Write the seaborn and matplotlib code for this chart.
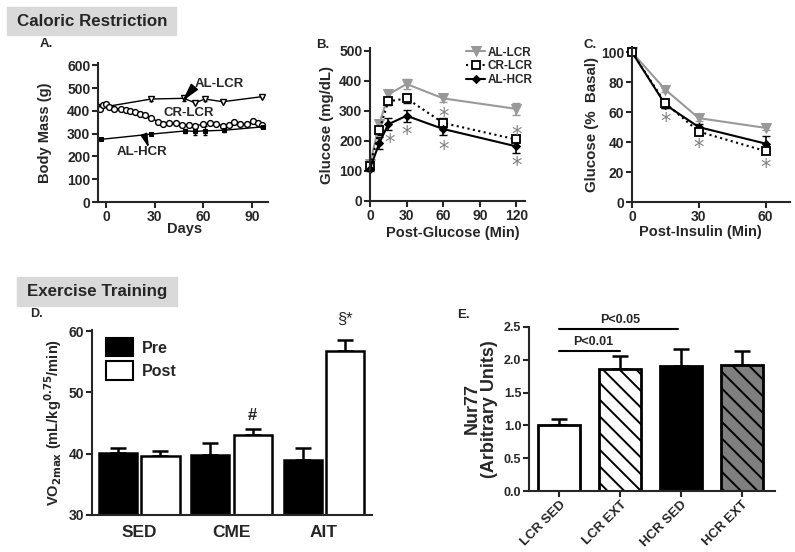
import matplotlib
matplotlib.use("Agg")
import matplotlib.pyplot as plt
import seaborn as sns
import pandas as pd
import numpy as np
from matplotlib.patches import Rectangle, Patch

# === DANE ===
# A. masa ciała
al_lcr_days = [-3, 28, 48, 55, 61, 72, 96]
al_lcr_mass = [415, 452, 455, 435, 452, 440, 462]
al_lcr_mass_err = [0, 10, 10, 0, 10, 0, 0]
cr_lcr_days = [-4, -2, 0, 2, 5, 9, 12, 15, 18, 21, 24, 28, 32, 35, 39, 43, 47, 51,
               55, 60, 64, 68, 72, 76, 79, 83, 87, 91, 94, 96]
cr_lcr_mass = [410, 425, 432, 418, 410, 406, 403, 400, 394, 388, 381, 369, 352, 342,
               347, 345, 337, 337, 334, 342, 345, 342, 334, 337, 352, 342, 342, 356, 345, 340]
al_hcr_days = [-3, 28, 49, 55, 61, 73, 97]
al_hcr_mass = [275, 298, 312, 310, 312, 315, 330]
al_hcr_mass_err = [0, 5, 8, 15, 20, 8, 5]

# B. test tolerancji glukozy
gtt_time = [0, 7.5, 15, 30, 60, 120]
al_lcr_gtt = [125, 255, 355, 390, 342, 307]
al_lcr_gtt_err = [10, 15, 15, 18, 12, 20]
cr_lcr_gtt = [117, 235, 332, 342, 260, 205]
cr_lcr_gtt_err = [8, 15, 12, 15, 15, 10]
al_hcr_gtt = [108, 192, 256, 284, 240, 182]
al_hcr_gtt_err = [8, 20, 20, 20, 20, 22]
gtt_star_x = [16, 30, 60, 60, 120, 120]
gtt_star_y = [217, 242, 303, 194, 242, 140]

# C. test tolerancji insuliny
itt_time = [0, 15, 30, 60]
al_lcr_itt = [100, 75, 56, 49.5]
al_lcr_itt_err = [0, 1.5, 2, 1.5]
cr_lcr_itt = [100, 66, 47, 34]
cr_lcr_itt_err = [0, 3, 2, 2]
al_hcr_itt = [100, 65, 50, 39]
al_hcr_itt_err = [0, 2, 2, 5]
itt_star_x = [15, 30, 60]
itt_star_y = [58, 40.7, 27.5]

# D. VO2max
groups = ["SED", "CME", "AIT"]
vo2_pre = [40.1, 39.85, 38.9]
vo2_pre_err = [0.9, 1.95, 2.0]
vo2_post = [39.6, 43.1, 56.7]
vo2_post_err = [0.9, 1.0, 1.9]

# E. Nur77
nur_cats = ["LCR SED", "LCR EXT", "HCR SED", "HCR EXT"]
nur_vals = [1.01, 1.86, 1.90, 1.92]
nur_err = [0.095, 0.2, 0.26, 0.22]
nur_colors = ["white", "white", "black", "#7f7f7f"]

GRAY = "#999999"
STAR = "#808080"

# === STYL ===
sns.set_style("ticks")
plt.rcParams["font.family"] = ["Liberation Sans", "DejaVu Sans"]
plt.rcParams["font.weight"] = "bold"
plt.rcParams["axes.labelweight"] = "bold"
plt.rcParams["hatch.linewidth"] = 1.4

fig = plt.figure(figsize=(7.95, 5.52), dpi=100)


def px_axes(l, t, r, b):
    return fig.add_axes([l / 795, 1 - b / 552, (r - l) / 795, (b - t) / 552])


def style(ax, size=10):
    sns.despine(ax=ax)
    for s in ["left", "bottom"]:
        ax.spines[s].set_linewidth(1.5)
    ax.tick_params(width=1.5, length=4, labelsize=size, pad=1.5)
    for lab in ax.get_xticklabels() + ax.get_yticklabels():
        lab.set_fontweight("bold")


def header(text, l, t, r, b):
    fig.patches.append(Rectangle((l / 795, 1 - b / 552), (r - l) / 795, (b - t) / 552,
                                 transform=fig.transFigure, color="#d9d9d9", zorder=0))
    fig.text((l + 10) / 795, 1 - (t + b) / 2 / 552, text, fontsize=12.2,
             fontweight="bold", va="center", ha="left")


def stars(ax, xs, ys, size=15):
    for x, y in zip(xs, ys):
        ax.annotate("*", (x, y), xytext=(0, -5), textcoords="offset points",
                    color=STAR, fontsize=size, ha="center", va="center",
                    fontweight="normal", family="DejaVu Sans", annotation_clip=False)


def arrow_head(angle_deg):
    # wydłużony trójkąt (grot) skierowany pod danym kątem
    a = np.deg2rad(angle_deg)
    d = np.array([np.cos(a), np.sin(a)])
    n = np.array([-d[1], d[0]])
    tip = d
    b1 = -0.6 * d + 0.4 * n
    b2 = -0.6 * d - 0.4 * n
    return [tuple(tip), tuple(b1), tuple(b2), tuple(tip)]


header("Caloric Restriction", 7, 7, 176, 35)
header("Exercise Training", 17, 277, 177, 306)

# === A ===
axA = px_axes(98, 63, 268, 202)
axA.errorbar(al_lcr_days, al_lcr_mass, yerr=al_lcr_mass_err, fmt="none", ecolor="k",
             elinewidth=1, capsize=1.5)
axA.errorbar(al_hcr_days, al_hcr_mass, yerr=al_hcr_mass_err, fmt="none", ecolor="k",
             elinewidth=1, capsize=1.5)
sns.lineplot(x=al_lcr_days, y=al_lcr_mass, ax=axA, color="k", lw=1, marker="v",
             markersize=4.8, markerfacecolor="white", markeredgecolor="k", markeredgewidth=1)
sns.lineplot(x=cr_lcr_days, y=cr_lcr_mass, ax=axA, color="k", lw=1, marker="o",
             markersize=4.2, markerfacecolor="white", markeredgecolor="k", markeredgewidth=1)
sns.lineplot(x=al_hcr_days, y=al_hcr_mass, ax=axA, color="k", lw=1, marker="s",
             markersize=2.5, markerfacecolor="k", markeredgecolor="k")
axA.set_xlim(-5, 100)
axA.set_ylim(0, 610)
axA.set_xticks([0, 30, 60, 90])
axA.set_yticks(range(0, 601, 100))
axA.set_xlabel("Days", fontsize=10.5)
axA.set_ylabel("Body Mass (g)", fontsize=10.5)
axA.xaxis.set_label_coords(0.51, -0.145)
axA.yaxis.set_label_coords(-0.27, 0.5)
axA.text(70, 520, "AL-LCR", fontsize=9.5, fontweight="bold", ha="center", va="center")
axA.text(51, 390, "CR-LCR", fontsize=9.5, fontweight="bold", ha="center", va="center")
axA.text(22, 219, "AL-HCR", fontsize=9.5, fontweight="bold", ha="center", va="center")
# grot strzałek przy etykietach
axA.plot([52], [485], marker=arrow_head(230), markersize=11, color="k", ls="none")
axA.plot([24], [280], marker=arrow_head(290), markersize=10, color="k", ls="none")
style(axA)
fig.text(40 / 795, 1 - 44 / 552, "A.", fontsize=9.5, fontweight="bold", va="center")

# === B ===
axB = px_axes(370, 48, 525, 201)
axB.errorbar(gtt_time, al_lcr_gtt, yerr=al_lcr_gtt_err, fmt="none", ecolor=GRAY,
             elinewidth=1.2, capsize=3, clip_on=False)
axB.errorbar(gtt_time, al_hcr_gtt, yerr=al_hcr_gtt_err, fmt="none", ecolor="k",
             elinewidth=1.2, capsize=3, clip_on=False)
axB.errorbar(gtt_time, cr_lcr_gtt, yerr=cr_lcr_gtt_err, fmt="none", ecolor="k",
             elinewidth=1.2, capsize=3, clip_on=False)
sns.lineplot(x=gtt_time, y=al_lcr_gtt, ax=axB, color=GRAY, lw=1.5, marker="v",
             markersize=7, markeredgecolor=GRAY, label="AL-LCR", clip_on=False)
sns.lineplot(x=gtt_time, y=cr_lcr_gtt, ax=axB, color="k", lw=1.5, ls=":", marker="s",
             markersize=6, markerfacecolor="white", markeredgecolor="k",
             markeredgewidth=1.3, label="CR-LCR", clip_on=False)
sns.lineplot(x=gtt_time, y=al_hcr_gtt, ax=axB, color="k", lw=1.5, marker="D",
             markersize=4, markeredgecolor="k", label="AL-HCR", clip_on=False)
stars(axB, gtt_star_x, gtt_star_y)
axB.set_xlim(0, 127)
axB.set_ylim(0, 510)
axB.set_xticks([0, 30, 60, 90, 120])
axB.set_yticks(range(0, 501, 100))
axB.set_xlabel("Post-Glucose (Min)", fontsize=10.5)
axB.set_ylabel("Glucose (mg/dL)", fontsize=10.8)
axB.xaxis.set_label_coords(0.535, -0.163)
axB.yaxis.set_label_coords(-0.232, 0.5)
leg = axB.legend(loc="upper right", bbox_to_anchor=(1.08, 1.04), frameon=False,
                 fontsize=8.5, handlelength=1.6, labelspacing=0.15, handletextpad=0.2,
                 borderaxespad=0)
for t in leg.get_texts():
    t.set_fontweight("bold")
style(axB)
fig.text(316 / 795, 1 - 45 / 552, "B.", fontsize=9.5, fontweight="bold", va="center")

# === C ===
axC = px_axes(632, 47, 790, 202)
axC.errorbar(itt_time, al_lcr_itt, yerr=al_lcr_itt_err, fmt="none", ecolor=GRAY,
             elinewidth=1.2, capsize=3, clip_on=False)
axC.errorbar(itt_time, al_hcr_itt, yerr=al_hcr_itt_err, fmt="none", ecolor="k",
             elinewidth=1.2, capsize=3, clip_on=False)
axC.errorbar(itt_time, cr_lcr_itt, yerr=cr_lcr_itt_err, fmt="none", ecolor="k",
             elinewidth=1.2, capsize=3, clip_on=False)
sns.lineplot(x=itt_time, y=al_lcr_itt, ax=axC, color=GRAY, lw=1.5, marker="v",
             markersize=7, markeredgecolor=GRAY, clip_on=False)
sns.lineplot(x=itt_time, y=al_hcr_itt, ax=axC, color="k", lw=1.5, marker="D",
             markersize=4, markeredgecolor="k", clip_on=False)
sns.lineplot(x=itt_time, y=cr_lcr_itt, ax=axC, color="k", lw=1.5, ls=":", marker="s",
             markersize=6, markerfacecolor="white", markeredgecolor="k",
             markeredgewidth=1.3, clip_on=False)
stars(axC, itt_star_x, itt_star_y)
axC.set_xlim(0, 71)
axC.set_ylim(0, 103.5)
axC.set_xticks([0, 30, 60])
axC.set_yticks(range(0, 101, 20))
axC.set_xlabel("Post-Insulin (Min)", fontsize=10.5)
axC.set_ylabel("Glucose (%  Basal)", fontsize=10.8)
axC.xaxis.set_label_coords(0.43, -0.148)
axC.yaxis.set_label_coords(-0.209, 0.5)
style(axC)
fig.text(583 / 795, 1 - 45 / 552, "C.", fontsize=9.5, fontweight="bold", va="center")

# === D ===
axD = px_axes(92, 330, 372, 515)
df_d = pd.DataFrame({
    "group": groups * 2,
    "phase": ["Pre"] * 3 + ["Post"] * 3,
    "value": vo2_pre + vo2_post,
})
sns.barplot(data=df_d, x="group", y="value", hue="phase", order=groups,
            hue_order=["Pre", "Post"], palette={"Pre": "black", "Post": "white"},
            edgecolor="black", linewidth=1.8, width=0.92, gap=0.1, errorbar=None,
            legend=False, ax=axD)
for cont, errs in zip(axD.containers, [vo2_pre_err, vo2_post_err]):
    xs = [b.get_x() + b.get_width() / 2 for b in cont]
    ys = [b.get_height() for b in cont]
    axD.errorbar(xs, ys, yerr=[[0] * 3, errs], fmt="none", ecolor="k", elinewidth=1.8,
                 capsize=5.5, capthick=1.8, zorder=0)
post_x = [b.get_x() + b.get_width() / 2 for b in axD.containers[1]]
axD.text(post_x[1], 46.2, "#", fontsize=12, fontweight="bold", ha="center", va="center")
axD.text(post_x[2], 62.0, "§*", fontsize=12, fontweight="normal", ha="center",
         va="center", clip_on=False)
axD.set_ylim(30, 60.2)
axD.set_xlim(-0.51, 2.52)
axD.set_yticks([30, 40, 50, 60])
axD.set_xlabel("")
axD.set_ylabel(r"VO$_{\mathbf{2max}}$ (mL/kg$^{\mathbf{0.75}}$/min)", fontsize=10.5)
axD.yaxis.set_label_coords(-0.1, 0.5)
style(axD, size=10)
axD.tick_params(axis="x", length=0, labelsize=12.5, pad=7)
for lab in axD.get_xticklabels():
    lab.set_fontweight("bold")
handles = [Patch(facecolor="black", edgecolor="black", lw=1.5, label="Pre"),
           Patch(facecolor="white", edgecolor="black", lw=1.5, label="Post")]
legD = axD.legend(handles=handles, loc="upper left", bbox_to_anchor=(0.02, 1.0),
                  frameon=False, fontsize=11.5, handlelength=1.7, handleheight=1.4,
                  labelspacing=0.3, handletextpad=0.6, borderaxespad=0.1)
for t in legD.get_texts():
    t.set_fontweight("bold")
fig.text(30 / 795, 1 - 314 / 552, "D.", fontsize=9, fontweight="bold", va="center")

# === E ===
axE = px_axes(529, 327, 775, 491)
sns.barplot(x=nur_cats, y=nur_vals, hue=nur_cats, palette=nur_colors, legend=False,
            edgecolor="black", linewidth=2, width=0.69, ax=axE)
for i, bar in enumerate(axE.patches):
    if i in (1, 3):
        bar.set_hatch("\\\\")
axE.errorbar(range(4), nur_vals, yerr=[[0] * 4, nur_err], fmt="none", ecolor="k",
             elinewidth=1.8, capsize=6, capthick=1.8, zorder=0)
axE.plot([0, 1], [2.13, 2.13], color="k", lw=1.5, clip_on=False)
axE.plot([0, 1.95], [2.465, 2.465], color="k", lw=1.5, clip_on=False)
axE.text(0.55, 2.27, "P<0.01", fontsize=9, fontweight="bold", ha="center", va="center")
axE.text(1.0, 2.6, "P<0.05", fontsize=9, fontweight="bold", ha="center", va="center",
         clip_on=False)
axE.set_xlim(-0.5, 3.55)
axE.set_ylim(0, 2.5)
axE.set_yticks([0, 0.5, 1.0, 1.5, 2.0, 2.5])
axE.set_yticklabels(["0.0", "0.5", "1.0", "1.5", "2.0", "2.5"])
axE.set_ylabel("Nur77\n(Arbitrary Units)", fontsize=13, linespacing=1.0)
axE.yaxis.set_label_coords(-0.126, 0.5)
style(axE, size=9)
axE.set_xticks(range(4))
axE.set_xticklabels(nur_cats, rotation=45, ha="right", rotation_mode="anchor",
                    fontsize=9.5, fontweight="bold")
fig.text(457 / 795, 1 - 315 / 552, "E.", fontsize=9.5, fontweight="bold", va="center")

fig.savefig("out.png", dpi=100)
